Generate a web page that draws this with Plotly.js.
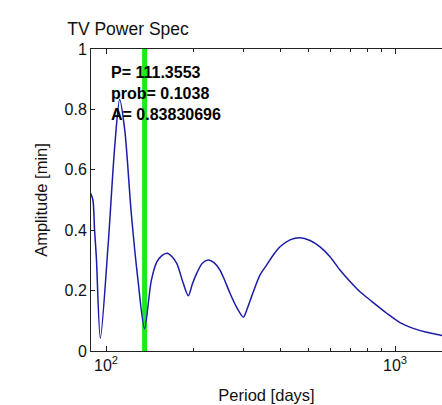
<!DOCTYPE html>
<html><head><meta charset="utf-8">
<script src="https://cdn.plot.ly/plotly-3.0.1.min.js"></script>
<style>html,body{margin:0;padding:0;overflow:hidden;background:#fff}</style>
</head><body><div id="chart" style="width:442px;height:405px"></div>
<script>
// Period [days]
var periods = [88.5, 90.1, 91.3, 92.6, 95.6, 101.6, 107.2, 111.5, 116.1, 122.3, 129.0, 135.9, 143.4, 149.8, 156, 163.0, 169, 175.7, 185.1, 192.7, 199, 206.0, 215, 225.9, 237, 248.0, 258, 268.6, 283, 298.7, 306.9, 323.4, 341.2, 359.8, 379.3, 400, 433.3, 469.3, 508.1, 550.3, 595.9, 645, 698.8, 756.6, 819.3, 936.1, 1040.6, 1157, 1287, 1431, 1460];
// Amplitude [min]
var amps = [0.522, 0.50, 0.40, 0.31, 0.042, 0.345, 0.677, 0.833, 0.732, 0.456, 0.235, 0.074, 0.232, 0.294, 0.316, 0.324, 0.313, 0.290, 0.224, 0.183, 0.222, 0.257, 0.290, 0.301, 0.292, 0.268, 0.232, 0.191, 0.145, 0.112, 0.136, 0.196, 0.252, 0.285, 0.318, 0.345, 0.368, 0.375, 0.366, 0.345, 0.312, 0.268, 0.230, 0.196, 0.169, 0.125, 0.094, 0.075, 0.062, 0.053, 0.051];
var markerPeriod = [136, 136];
var markerSpan = [0, 1];
var infoLines = ["P= 111.3553", "prob= 0.1038", "A= 0.83830696"];
var xTickVals = [100, 1000];
var xTickText = ["10<sup>2</sup>", "10<sup>3</sup>"];
var xMinorVals = [200, 300, 400, 500, 600, 700, 800, 900];
var yTickVals = [0, 0.2, 0.4, 0.6, 0.8, 1];
var yTickText = ["0", "0.2", "0.4", "0.6", "0.8", "1"];

var font = "Liberation Sans, Arial, Helvetica, sans-serif";
var traces = [
  {x: markerPeriod, y: markerSpan, mode: 'lines', line: {color: '#1ee81e', width: 5}, hoverinfo: 'skip'},
  {x: periods, y: amps, mode: 'lines', line: {color: '#1c1ca6', width: 1.5, shape: 'spline', smoothing: 0.8}}
];
var layout = {
  width: 442, height: 405,
  margin: {l: 91, r: 0, t: 49, b: 54},
  paper_bgcolor: '#fff', plot_bgcolor: '#fff',
  showlegend: false,
  font: {family: font, size: 16, color: '#111'},
  title: {text: 'TV Power Spec', x: 128/442, xanchor: 'center', xref: 'container', y: 1 - 29/405, yanchor: 'middle', yref: 'container', font: {family: font, size: 17.5, color: '#111'}},
  xaxis: {
    type: 'log', range: [1.9481, 3.1626],
    tickmode: 'array', tickvals: xTickVals, ticktext: xTickText,
    ticks: 'inside', ticklen: 5, tickwidth: 1, tickcolor: '#222',
    minor: {tickmode: 'array', tickvals: xMinorVals, ticks: 'inside', ticklen: 3, tickwidth: 1, tickcolor: '#222'},
    showline: true, linecolor: '#222', linewidth: 1, mirror: 'ticks',
    showgrid: false, zeroline: false,
    tickfont: {family: font, size: 16, color: '#111'},
    title: {text: 'Period [days]', font: {family: font, size: 16.5, color: '#111'}, standoff: 16}
  },
  yaxis: {
    range: [0, 1],
    tickmode: 'array', tickvals: yTickVals, ticktext: yTickText,
    ticks: 'inside', ticklen: 4, tickwidth: 1, tickcolor: '#222',
    showline: true, linecolor: '#222', linewidth: 1, mirror: false,
    showgrid: false, zeroline: false,
    tickfont: {family: font, size: 16, color: '#111'},
    title: {text: 'Amplitude [min]', font: {family: font, size: 16.5, color: '#111'}, standoff: 12}
  },
  annotations: [{
    xref: 'paper', yref: 'paper', x: 18/351, y: (351 - 62)/302,
    xanchor: 'left', yanchor: 'top', align: 'left', showarrow: false,
    text: '<b>' + infoLines.join('<br>') + '</b>',
    font: {family: font, size: 16, color: '#000'}
  }]
};
Plotly.newPlot('chart', traces, layout, {displayModeBar: false, staticPlot: true});
</script></body></html>
